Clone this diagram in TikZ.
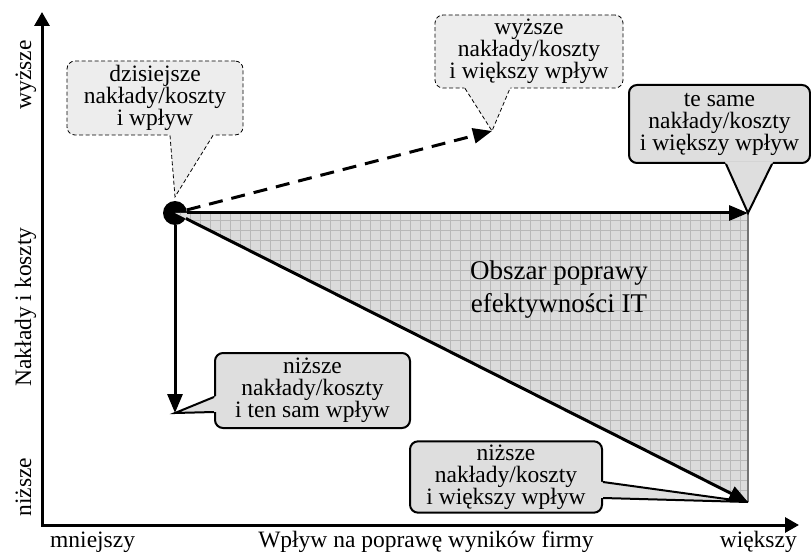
\documentclass[tikz,border=0pt]{standalone}
\usepackage{fontspec}
\setmainfont{Liberation Serif}
\usetikzlibrary{arrows.meta,calc}
\definecolor{bubblelight}{gray}{0.93}
\definecolor{bubbledark}{gray}{0.87}
\definecolor{areafill}{gray}{0.86}
\definecolor{areagrid}{gray}{0.72}
\definecolor{areaedge}{gray}{0.45}
\tikzset{
  >={Triangle[length=19pt,width=15pt]},
  axis/.style={line width=3pt,{Triangle[length=14pt,width=15pt]}-{Triangle[length=14pt,width=15pt]}},
  move/.style={line width=3pt,->},
  lab/.style={inner sep=0pt},
  dashbubble/.style={draw,dash pattern=on 4pt off 2.5pt,line width=0.8pt,fill=bubblelight,rounded corners=8pt,align=center},
  bubble/.style={draw,line width=2pt,fill=bubbledark,rounded corners=8pt,align=center},
}
% pointer of a callout: style, tip, two points on the box edge
\newcommand\pointer[4]{
    \fill[#1,sharp corners,draw=none] ($(#3)!-3pt!(#2)$) -- (#2) -- ($(#4)!-3pt!(#2)$) -- cycle;
    \draw[#1,sharp corners,fill=none] (#3) -- (#2) -- (#4);
}
\begin{document}
\begin{tikzpicture}[x=1pt,y=-1pt,font=\fontsize{23.5}{22}\selectfont]
    \useasboundingbox (0,0) rectangle (811,553);
    % axes
    \coordinate (ytop) at (42,12);
    \coordinate (xend) at (799,525);
    \draw[axis] (ytop) |- (xend);
    \node[lab,rotate=90,anchor=base] (hi)   at (31,75)  {wyższe};
    \node[lab,rotate=90,anchor=base] (ylab) at (31,307) {Nakłady i koszty};
    \node[lab,rotate=90,anchor=base] (lo)   at (31,487) {niższe};
    \node[lab,anchor=base west] (less) at (50,547)  {mniejszy};
    \node[lab,anchor=base]      (xlab) at (426,547) {Wpływ na poprawę wyników firmy};
    \node[lab,anchor=base east] (more) at (797,547) {większy};
    % points
    \node[circle,fill,inner sep=0pt,minimum size=24pt] (now) at (175,213) {};
    \coordinate (same)    at (748,213);
    \coordinate (better)  at (748,502);
    \coordinate (cheaper) at (175,413);
    \coordinate (dearer)  at (492,131);
    % area
    \begin{scope}
        \clip (now.center) -- (same) -- (better) -- cycle;
        \fill[areafill] (170,205) rectangle (750,505);
        \draw[areagrid,line width=0.6pt,step=10pt] (170,505) grid (750,205);
    \end{scope}
    \draw[areaedge,line width=1.5pt] (same) -- (better);
    \node[font=\fontsize{27}{33}\selectfont,align=center] (area) at (559,290) {Obszar poprawy\\efektywności IT};
    % moves
    \draw[move] (now) -- (same);
    \draw[move] (now) -- (better);
    \draw[move] (now) -- (cheaper);
    \draw[move,dash pattern=on 14pt off 9pt] (now) -- (dearer);
    % callouts
    \node[dashbubble,minimum width=176pt,minimum height=74pt] (today) at (155,98) {dzisiejsze\\nakłady/koszty\\i wpływ};
    \coordinate (today-a)   at ([xshift=15pt]today.south);
    \coordinate (today-b)   at ([xshift=58pt]today.south);
    \coordinate (today-tip) at ([yshift=4pt]now.north);
    \pointer{dashbubble}{today-tip}{today-a}{today-b}
    \node[dashbubble,minimum width=188pt,minimum height=73pt] (up) at (529,51.5) {wyższe\\nakłady/koszty\\i większy wpływ};
    \coordinate (up-a) at ([xshift=-64pt]up.south);
    \coordinate (up-b) at ([xshift=-19pt]up.south);
    \pointer{dashbubble}{dearer}{up-a}{up-b}
    \node[bubble,minimum width=181pt,minimum height=78pt] (right) at (719.5,124) {te same\\nakłady/koszty\\i większy wpływ};
    \coordinate (right-a) at ([xshift=6.5pt]right.south);
    \coordinate (right-b) at ([xshift=52.5pt]right.south);
    \pointer{bubble}{same}{right-a}{right-b}
    \node[bubble,minimum width=195pt,minimum height=75pt] (down) at (312.5,390.5) {niższe\\nakłady/koszty\\i ten sam wpływ};
    \coordinate (down-a) at ([yshift=-6.5pt]down.west);
    \coordinate (down-b) at ([yshift=-21.5pt]down.west);
    \pointer{bubble}{cheaper}{down-a}{down-b}
    \node[bubble,minimum width=192pt,minimum height=70pt] (diag) at (506,477) {niższe\\nakłady/koszty\\i większy wpływ};
    \coordinate (diag-a) at ([yshift=-5pt]diag.east);
    \coordinate (diag-b) at ([yshift=-21pt]diag.east);
    \pointer{bubble}{better}{diag-a}{diag-b}
\end{tikzpicture}
\end{document}
